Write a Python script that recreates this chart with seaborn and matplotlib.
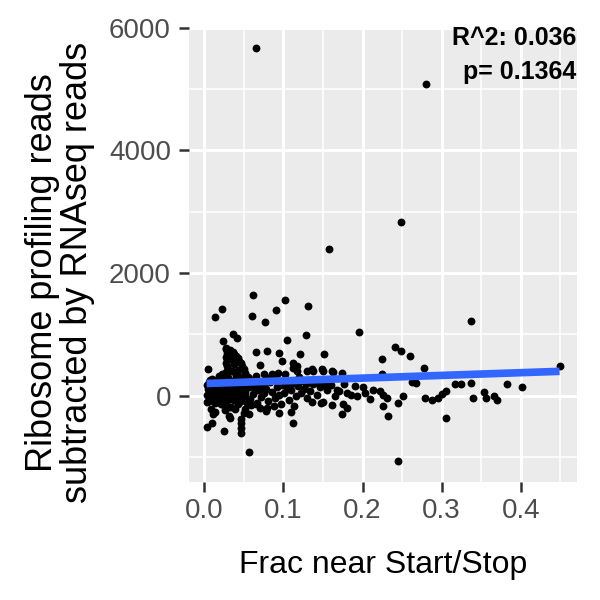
import pandas as pd
import seaborn as sns
import matplotlib
matplotlib.use("Agg")
import matplotlib.pyplot as plt
from matplotlib.ticker import MultipleLocator

# dense cloud around zero
x_core = [0.003, 0.004, 0.005, 0.006, 0.007, 0.008, 0.009, 0.010, 0.011, 0.012,
          0.013, 0.014, 0.015, 0.016, 0.017, 0.018, 0.019, 0.020, 0.021, 0.022,
          0.023, 0.024, 0.025, 0.026, 0.027, 0.028, 0.029, 0.030, 0.031, 0.032,
          0.033, 0.034, 0.035, 0.036, 0.037, 0.038, 0.039, 0.040, 0.041, 0.042,
          0.043, 0.044, 0.045, 0.046, 0.047, 0.048, 0.049, 0.050, 0.051, 0.052,
          0.054, 0.056, 0.058, 0.060, 0.062, 0.064, 0.066, 0.068, 0.070, 0.072,
          0.074, 0.076, 0.078, 0.080, 0.083, 0.086, 0.089, 0.092, 0.095, 0.098,
          0.101, 0.104, 0.107, 0.110, 0.113, 0.116, 0.119, 0.122, 0.126, 0.130,
          0.134, 0.138, 0.142, 0.146, 0.150, 0.155, 0.160, 0.165, 0.170, 0.180]
y_core = [180, 20, 120, -90, 260, 70, -30, 210, 40, 140,
          -120, 100, 0, 230, 60, -60, 150, 30, 190, -140,
          110, -20, 240, 50, 160, -100, 90, 10, 200, -50,
          130, -180, 80, -10, 250, -70, 120, 40, 170, -130,
          60, 220, -30, 100, -80, 140, 20, 180, 0, 70,
          -110, 150, -50, 210, 30, 120, -140, 90, 200, -20,
          160, 40, 110, -90, 230, 60, -40, 140, 10, 180,
          50, 120, -70, 90, 210, -10, 160, 40, 120, -40,
          80, 200, 20, 140, -100, 100, 170, 0, 80, 40]

x_core2 = [0.004, 0.006, 0.009, 0.011, 0.014, 0.016, 0.019, 0.021, 0.024, 0.026,
           0.029, 0.031, 0.034, 0.036, 0.039, 0.041, 0.044, 0.046, 0.049, 0.051,
           0.055, 0.059, 0.063, 0.067, 0.071, 0.075, 0.079, 0.084, 0.088, 0.093,
           0.097, 0.102, 0.108, 0.114, 0.120, 0.128, 0.136, 0.144, 0.152, 0.162]
y_core2 = [-100, 230, -210, 180, 250, -60, 210, -140, 260, -230,
           220, -180, 240, 150, -220, 270, -40, 210, 110, -210,
           230, -150, 200, -120, -190, 210, -200, 240, -160, 230,
           -140, 220, 200, -170, 230, 190, -100, 210, 170, -150]

# D shaped clump at low fractions
x_d = [0.028, 0.029, 0.028, 0.029, 0.028, 0.029, 0.030, 0.028, 0.029, 0.030,
       0.031, 0.032, 0.033, 0.036, 0.038, 0.040, 0.042, 0.044, 0.046, 0.048,
       0.050, 0.052, 0.053, 0.055, 0.035, 0.040, 0.045, 0.038, 0.034, 0.043]
y_d = [760, 700, 640, 590, 540, 490, 440, 390, 340, 290,
       240, 210, 740, 720, 690, 650, 610, 570, 530, 480,
       430, 380, 330, 280, 400, 350, 300, 520, 600, 420]

# upper band
x_up = [0.062, 0.102, 0.023, 0.014, 0.131, 0.091, 0.060, 0.077, 0.036, 0.041,
        0.024, 0.129, 0.104, 0.028, 0.066, 0.079, 0.095, 0.098, 0.121, 0.151,
        0.112, 0.117, 0.225, 0.241, 0.248, 0.260, 0.278, 0.195, 0.337]
y_up = [1645, 1565, 1420, 1290, 1470, 1400, 1305, 1210, 1015, 935,
        890, 985, 905, 775, 710, 725, 695, 565, 680, 680,
        530, 485, 600, 790, 725, 645, 450, 1040, 1225]

# outliers
x_out = [0.065, 0.280, 0.248, 0.158, 0.449, 0.245, 0.057]
y_out = [5660, 5080, 2840, 2400, 480, -1065, -920]

# middle band
x_mid = [0.005, 0.070, 0.085, 0.093, 0.102, 0.137, 0.150, 0.163, 0.174, 0.130,
         0.136, 0.149, 0.161, 0.112, 0.117, 0.055, 0.060, 0.010, 0.040, 0.065,
         0.080, 0.090, 0.120, 0.075, 0.045, 0.018, 0.025, 0.022]
y_mid = [440, 500, 355, 370, 355, 400, 400, 390, 370, 400,
         435, 440, 400, 450, 400, 300, 260, 280, 330, 330,
         290, 300, 310, 360, 300, 320, 300, 350]

# lower band
x_low = [0.003, 0.010, 0.025, 0.033, 0.046, 0.046, 0.046, 0.046, 0.056, 0.095,
         0.112, 0.175, 0.180, 0.174, 0.011, 0.013, 0.031, 0.050, 0.078, 0.110,
         0.147]
y_low = [-515, -435, -565, -355, -370, -450, -530, -610, -300, -275,
         -435, -130, -190, -290, -300, -260, -330, -280, -250, -260,
         -120]

# right side
x_right = [0.203, 0.193, 0.213, 0.222, 0.226, 0.231, 0.226, 0.232, 0.245, 0.251,
           0.279, 0.288, 0.295, 0.301, 0.305, 0.305, 0.339, 0.353, 0.356, 0.366,
           0.370, 0.267, 0.317, 0.324, 0.337, 0.383, 0.401, 0.185, 0.200, 0.210,
           0.168, 0.190, 0.176, 0.155, 0.224, 0.262]
y_right = [50, 0, 100, 80, 20, -30, -160, -320, -110, 0,
           -30, -60, -30, 30, 80, -360, -40, 60, -40, -10,
           -60, 210, 200, 200, 210, 200, 140, 20, 150, -50,
           90, 160, 200, 150, 350, 230]

df = pd.DataFrame({
    "frac": x_core + x_core2 + x_d + x_up + x_out + x_mid + x_low + x_right,
    "reads": y_core + y_core2 + y_d + y_up + y_out + y_mid + y_low + y_right,
})

sns.set_theme(style="darkgrid")
plt.rcParams['font.family'] = ['Liberation Sans', 'DejaVu Sans']

fig = plt.figure(figsize=(6, 6), dpi=100)
ax = fig.add_axes([0.315, 0.197, 0.647, 0.758])
ax.set_facecolor('#EBEBEB')

# points + linear fit without the confidence band
sns.regplot(data=df, x="frac", y="reads", ci=None, ax=ax,
            scatter_kws=dict(s=32, color='black', linewidths=0, alpha=1),
            line_kws=dict(color='#3366FF', linewidth=5.5, solid_capstyle='butt'))

ax.set_xlim(-0.0193, 0.4713)
ax.set_ylim(-1400, 6010)
ax.xaxis.set_minor_locator(MultipleLocator(0.05))
ax.yaxis.set_minor_locator(MultipleLocator(1000))
ax.set_xticks([0.0, 0.1, 0.2, 0.3, 0.4])
ax.set_xticklabels(['0.0', '0.1', '0.2', '0.3', '0.4'])
ax.set_yticks([0, 2000, 4000, 6000])
ax.set_yticklabels(['0', '2000', '4000', '6000'])
ax.grid(which='major', color='white', linewidth=2.2)
ax.grid(which='minor', color='white', linewidth=1.1)
ax.set_axisbelow(True)
for s in ax.spines.values():
    s.set_visible(False)

ax.tick_params(which='major', length=7, width=1.8, color='#333333',
               labelcolor='#4D4D4D', labelsize=20, left=True, bottom=True)
ax.tick_params(axis='x', pad=5)
ax.tick_params(axis='y', pad=6)
ax.tick_params(which='minor', length=0)

ax.set_xlabel('Frac near Start/Stop', fontsize=23, color='black')
ax.set_ylabel('Ribosome profiling reads\nsubtracted by RNAseq reads',
              fontsize=26, color='black', linespacing=1.0)
ax.xaxis.set_label_coords(0.5, -0.149)
ax.yaxis.set_label_coords(-0.242, 0.46)

ax.text(0.997, 0.976, 'R^2: 0.036', transform=ax.transAxes, ha='right',
        va='center', fontsize=18, fontweight='bold', color='black')
ax.text(0.997, 0.901, 'p= 0.1364', transform=ax.transAxes, ha='right',
        va='center', fontsize=18, fontweight='bold', color='black')

fig.savefig('out.png', dpi=100)
